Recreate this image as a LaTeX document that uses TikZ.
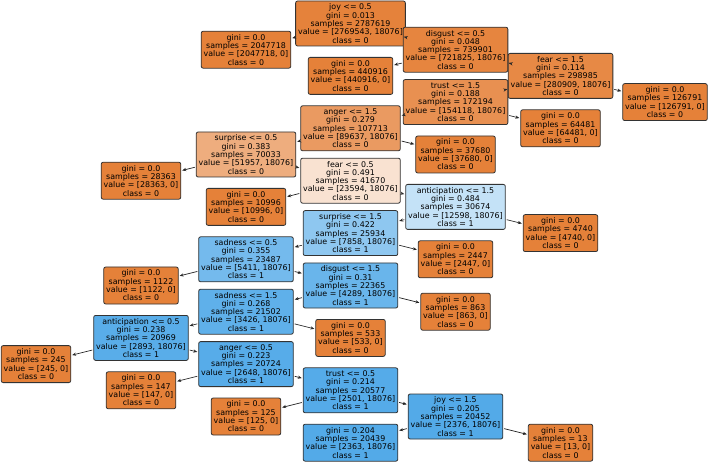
\documentclass[tikz,border=0pt]{standalone}
\usepackage{fontspec}
\setmainfont{DejaVu Sans}
\usetikzlibrary{arrows.meta}
\definecolor{cA}{HTML}{E58139}
\definecolor{cB}{HTML}{399DE5}
\definecolor{edgec}{HTML}{333333}
\begin{document}
\begin{tikzpicture}[x=1pt,y=-1pt,
  box/.style={draw=edgec, rounded corners=2pt, line width=0.8pt, align=center,
    font=\fontsize{7.9}{8.3}\selectfont, inner xsep=2.5pt, inner ysep=1.2pt},
  leaf/.style={box, fill=cA, minimum height=37pt},
  split/.style={box, minimum height=45pt},
  arr/.style={-{Stealth[length=4pt,width=3.2pt]}, draw=black!85, line width=0.7pt, shorten >=1pt, shorten <=1pt}]
\useasboundingbox (0,0) rectangle (709,462);
% level 0
\node[split, fill=cA!99] (root) at (350.5,23.5) {joy <= 0.5\\gini = 0.013\\samples = 2787619\\value = [2769543, 18076]\\class = 0};
\node[leaf] (l1) at (246,49.7) {gini = 0.0\\samples = 2047718\\value = [2047718, 0]\\class = 0};
\node[split, fill=cA!97] (dis05) at (455.5,49.7) {disgust <= 0.5\\gini = 0.048\\samples = 739901\\value = [721825, 18076]\\class = 0};
\node[leaf] (l2) at (350.5,75.9) {gini = 0.0\\samples = 440916\\value = [440916, 0]\\class = 0};
\node[split, fill=cA!94] (fear15) at (560.5,75.9) {fear <= 1.5\\gini = 0.114\\samples = 298985\\value = [280909, 18076]\\class = 0};
\node[leaf] (l3) at (665,102.1) {gini = 0.0\\samples = 126791\\value = [126791, 0]\\class = 0};
\node[split, fill=cA!88] (tru15) at (455.5,102.1) {trust <= 1.5\\gini = 0.188\\samples = 172194\\value = [154118, 18076]\\class = 0};
\node[leaf] (l4) at (560.5,128.3) {gini = 0.0\\samples = 64481\\value = [64481, 0]\\class = 0};
\node[split, fill=cA!80] (ang15) at (350.5,128.3) {anger <= 1.5\\gini = 0.279\\samples = 107713\\value = [89637, 18076]\\class = 0};
\node[leaf] (l5) at (455.5,154.5) {gini = 0.0\\samples = 37680\\value = [37680, 0]\\class = 0};
\node[split, fill=cA!65] (sur05) at (246,154.5) {surprise <= 0.5\\gini = 0.383\\samples = 70033\\value = [51957, 18076]\\class = 0};
\node[leaf] (l6) at (141,180.7) {gini = 0.0\\samples = 28363\\value = [28363, 0]\\class = 0};
\node[split, fill=cA!23] (fear05) at (350.5,180.7) {fear <= 0.5\\gini = 0.491\\samples = 41670\\value = [23594, 18076]\\class = 0};
\node[leaf] (l7) at (246,206.9) {gini = 0.0\\samples = 10996\\value = [10996, 0]\\class = 0};
\node[split, fill=cB!30] (ant15) at (455.5,206.9) {anticipation <= 1.5\\gini = 0.484\\samples = 30674\\value = [12598, 18076]\\class = 1};
\node[leaf] (l8) at (560.5,233.1) {gini = 0.0\\samples = 4740\\value = [4740, 0]\\class = 0};
\node[split, fill=cB!57] (sur15) at (350.5,233.1) {surprise <= 1.5\\gini = 0.422\\samples = 25934\\value = [7858, 18076]\\class = 1};
\node[leaf] (l9) at (455.5,259.3) {gini = 0.0\\samples = 2447\\value = [2447, 0]\\class = 0};
\node[split, fill=cB!70] (sad05) at (246,259.3) {sadness <= 0.5\\gini = 0.355\\samples = 23487\\value = [5411, 18076]\\class = 1};
\node[leaf] (l10) at (141,285.5) {gini = 0.0\\samples = 1122\\value = [1122, 0]\\class = 0};
\node[split, fill=cB!76] (dis15) at (350.5,285.5) {disgust <= 1.5\\gini = 0.31\\samples = 22365\\value = [4289, 18076]\\class = 1};
\node[leaf] (l11) at (455.5,311.7) {gini = 0.0\\samples = 863\\value = [863, 0]\\class = 0};
\node[split, fill=cB!81] (sad15) at (246,311.7) {sadness <= 1.5\\gini = 0.268\\samples = 21502\\value = [3426, 18076]\\class = 1};
\node[leaf] (l12) at (350.5,337.9) {gini = 0.0\\samples = 533\\value = [533, 0]\\class = 0};
\node[split, fill=cB!84] (ant05) at (141,337.9) {anticipation <= 0.5\\gini = 0.238\\samples = 20969\\value = [2893, 18076]\\class = 1};
\node[leaf] (l13) at (36,364.1) {gini = 0.0\\samples = 245\\value = [245, 0]\\class = 0};
\node[split, fill=cB!85] (ang05) at (246,364.1) {anger <= 0.5\\gini = 0.223\\samples = 20724\\value = [2648, 18076]\\class = 1};
\node[leaf] (l14) at (141,390.3) {gini = 0.0\\samples = 147\\value = [147, 0]\\class = 0};
\node[split, fill=cB!86] (tru05) at (350.5,390.3) {trust <= 0.5\\gini = 0.214\\samples = 20577\\value = [2501, 18076]\\class = 1};
\node[leaf] (l15) at (246,416.5) {gini = 0.0\\samples = 125\\value = [125, 0]\\class = 0};
\node[split, fill=cB!87] (joy15) at (455.5,416.5) {joy <= 1.5\\gini = 0.205\\samples = 20452\\value = [2376, 18076]\\class = 1};
\node[leaf, fill=cB!87] (l16) at (350.5,442.7) {gini = 0.204\\samples = 20439\\value = [2363, 18076]\\class = 1};
\node[leaf] (l17) at (560.5,442.7) {gini = 0.0\\samples = 13\\value = [13, 0]\\class = 0};
% edges
\foreach \p/\c in {root/l1, root/dis05, dis05/l2, dis05/fear15, fear15/tru15, fear15/l3,
  tru15/ang15, tru15/l4, ang15/sur05, ang15/l5, sur05/l6, sur05/fear05, fear05/l7, fear05/ant15,
  ant15/sur15, ant15/l8, sur15/sad05, sur15/l9, sad05/l10, sad05/dis15, dis15/sad15, dis15/l11,
  sad15/ant05, sad15/l12, ant05/l13, ant05/ang05, ang05/l14, ang05/tru05, tru05/l15, tru05/joy15,
  joy15/l16, joy15/l17}
  \draw[arr] (\p) -- (\c);
\end{tikzpicture}
\end{document}
